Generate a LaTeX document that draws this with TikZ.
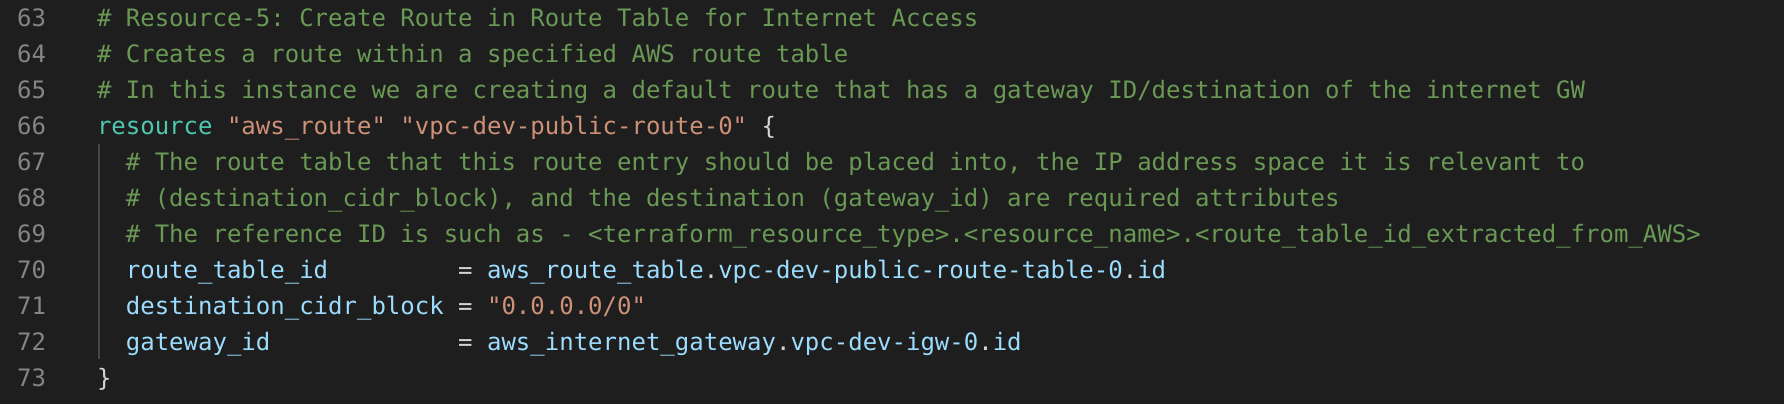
\documentclass[tikz,border=0pt]{standalone}
\usepackage{fontspec}
\setmonofont{DejaVu Sans Mono}

\definecolor{editorbg}{HTML}{1E1E1E}
\definecolor{lnumgray}{HTML}{858585}
\definecolor{cmtgreen}{HTML}{6A9955}
\definecolor{kwteal}{HTML}{4EC9B0}
\definecolor{strorange}{HTML}{CE9178}
\definecolor{propblue}{HTML}{9CDCFE}
\definecolor{plaingray}{HTML}{D4D4D4}
\definecolor{guidegray}{HTML}{454545}

\tikzset{
    code/.style={anchor=base west, inner sep=0pt, outer sep=0pt,
        font=\ttfamily\fontsize{12}{14}\selectfont\frenchspacing},
    lineno/.style={code, anchor=base east, text=lnumgray},
    cmt/.style={code, text=cmtgreen},
    kw/.style={code, text=kwteal},
    str/.style={code, text=strorange},
    prop/.style={code, text=propblue},
    op/.style={code, text=plaingray},
}

\begin{document}
\begin{tikzpicture}[x=0.5pt, y=-0.5pt]
    \fill[editorbg] (0,0) rectangle (1784,404);

    \draw
        node [lineno] (n63) at (46,26) {63}
        node [lineno] (n64) at (46,62) {64}
        node [lineno] (n65) at (46,98) {65}
        node [lineno] (n66) at (46,134) {66}
        node [lineno] (n67) at (46,170) {67}
        node [lineno] (n68) at (46,206) {68}
        node [lineno] (n69) at (46,242) {69}
        node [lineno] (n70) at (46,278) {70}
        node [lineno] (n71) at (46,314) {71}
        node [lineno] (n72) at (46,350) {72}
        node [lineno] (n73) at (46,386) {73};

    \draw[guidegray, line width=1pt] (99,144) -- (99,359);

    % one unit = one column, one line
    \begin{scope}[shift={(97,26)}, x=7.224pt, y=-18pt]
    \draw
        node [cmt] (c63) at (0,0) {\# Resource-5: Create Route in Route Table for Internet Access}
        node [cmt] (c64) at (0,1) {\# Creates a route within a specified AWS route table}
        node [cmt] (c65) at (0,2) {\# In this instance we are creating a default route that has a gateway ID/destination of the internet GW};

    \draw
        node [kw] (kw66) at (0,3) {resource}
        node [str] (type66) at (9,3) {"aws\_route"}
        node [str] (name66) at (21,3) {"vpc-dev-public-route-0"}
        node [op] (open66) at (46,3) {\{};

    \draw
        node [cmt] (c67) at (2,4) {\# The route table that this route entry should be placed into, the IP address space it is relevant to}
        node [cmt] (c68) at (2,5) {\# (destination\_cidr\_block), and the destination (gateway\_id) are required attributes}
        node [cmt] (c69) at (2,6) {\# The reference ID is such as - <terraform\_resource\_type>.<resource\_name>.<route\_table\_id\_extracted\_from\_AWS>};

    \draw
        node [prop] (k70) at (2,7) {route\_table\_id}
        node [op] (eq70) at (25,7) {=}
        node [prop] (v70a) at (27,7) {aws\_route\_table}
        node [op] (d70a) at (42,7) {.}
        node [prop] (v70b) at (43,7) {vpc-dev-public-route-table-0}
        node [op] (d70b) at (71,7) {.}
        node [prop] (v70c) at (72,7) {id};

    \draw
        node [prop] (k71) at (2,8) {destination\_cidr\_block}
        node [op] (eq71) at (25,8) {=}
        node [str] (v71) at (27,8) {"0.0.0.0/0"};

    \draw
        node [prop] (k72) at (2,9) {gateway\_id}
        node [op] (eq72) at (25,9) {=}
        node [prop] (v72a) at (27,9) {aws\_internet\_gateway}
        node [op] (d72a) at (47,9) {.}
        node [prop] (v72b) at (48,9) {vpc-dev-igw-0}
        node [op] (d72b) at (61,9) {.}
        node [prop] (v72c) at (62,9) {id};

    \draw
        node [op] (close73) at (0,10) {\}};
    \end{scope}
\end{tikzpicture}
\end{document}
